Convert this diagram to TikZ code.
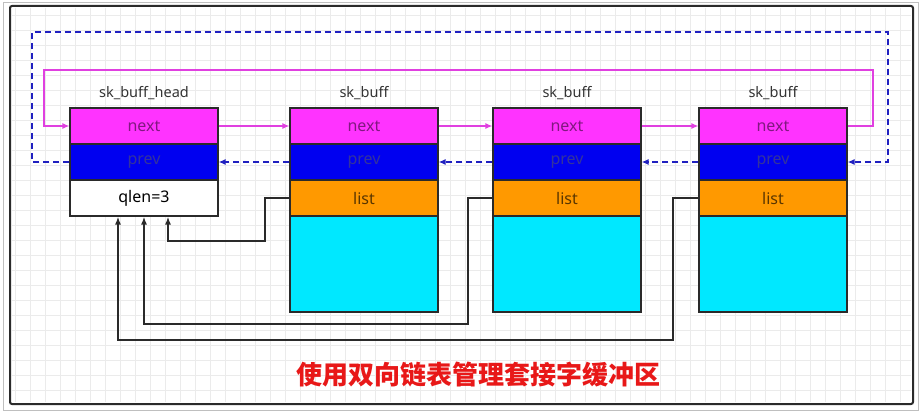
\documentclass[tikz,border=0pt]{standalone}
\usepackage{fontspec}
\setmainfont{Noto Sans}
\newfontfamily\cjk{Noto Sans CJK SC}
\definecolor{skMagenta}{HTML}{FF33FF}
\definecolor{skBlue}{HTML}{0000F0}
\definecolor{skOrange}{HTML}{FF9900}
\definecolor{skCyan}{HTML}{00E8FF}
\definecolor{skDash}{HTML}{2020C0}
\definecolor{skPink}{HTML}{E040E0}
\definecolor{skRed}{HTML}{E81818}
\definecolor{skFrame}{HTML}{2A2A2A}
\usetikzlibrary{arrows.meta, positioning, calc}

\begin{document}
\begin{tikzpicture}[x=1pt, y=-1pt,
  cell/.style={draw=skFrame, line width=1.2pt, minimum width=148pt,
    minimum height=36pt, inner sep=0pt, font=\fontsize{16}{16}\selectfont},
  title/.style={font=\fontsize{14.5}{14.5}\selectfont, text=black!80},
  nextln/.style={skPink, line width=1.2pt, -{Latex[length=7pt,width=6pt]}},
  prevln/.style={skDash, line width=1.5pt, dash pattern=on 6pt off 4pt,
    -{Latex[length=7pt,width=6pt]}},
  listln/.style={skFrame, line width=1.4pt, -{Latex[length=8pt,width=6pt]}}]
  \useasboundingbox (0,0) rectangle (921,412);
  % canvas
  \fill[white] (0,0) rectangle (921,412);
  \foreach \gx in {15,30,...,905}
    \draw[black!8, line width=0.5pt] (\gx,8) -- (\gx,402);
  \foreach \gy in {15,30,...,400}
    \draw[black!8, line width=0.5pt] (12,\gy) -- (911,\gy);
  \draw[black!25, line width=0.6pt] (3,2) rectangle (918,410);
  \draw[skFrame, line width=2pt, rounded corners=2pt] (10,6) rectangle (913,404);
  % sk_buff_head
  \node[cell, fill=skMagenta, text=skMagenta!50!black] (n1) at (144,126) {next};
  \node[cell, fill=skBlue, text=skBlue!55!black!80!white] (p1) at (144,162) {prev};
  \node[cell, fill=white] (q) at (144,198) {qlen=3};
  \node[title, above=4pt of n1] {sk\_buff\_head};
  % sk_buff nodes
  \node[cell, fill=skMagenta, text=skMagenta!50!black] (n2) at (364,126) {next};
  \node[cell, fill=skBlue, text=skBlue!55!black!80!white] (p2) at (364,162) {prev};
  \node[cell, fill=skOrange, text=skOrange!35!black] (l2) at (364,198) {list};
  \node[cell, fill=skCyan, minimum height=96pt] (d2) at (364,264) {};
  \node[title, above=4pt of n2] {sk\_buff};
  \node[cell, fill=skMagenta, text=skMagenta!50!black] (n3) at (567,126) {next};
  \node[cell, fill=skBlue, text=skBlue!55!black!80!white] (p3) at (567,162) {prev};
  \node[cell, fill=skOrange, text=skOrange!35!black] (l3) at (567,198) {list};
  \node[cell, fill=skCyan, minimum height=96pt] (d3) at (567,264) {};
  \node[title, above=4pt of n3] {sk\_buff};
  \node[cell, fill=skMagenta, text=skMagenta!50!black] (n4) at (773,126) {next};
  \node[cell, fill=skBlue, text=skBlue!55!black!80!white] (p4) at (773,162) {prev};
  \node[cell, fill=skOrange, text=skOrange!35!black] (l4) at (773,198) {list};
  \node[cell, fill=skCyan, minimum height=96pt] (d4) at (773,264) {};
  \node[title, above=4pt of n4] {sk\_buff};
  % corners of the loops
  \coordinate (nxR) at (873,70);
  \coordinate (nxL) at (44,70);
  \coordinate (pvL) at (32,32);
  \coordinate (pvR) at (888,32);
  \coordinate (lk2) at (265,241);
  \coordinate (lk3) at (468,324);
  \coordinate (lk4) at (673,340);
  % next links
  \draw[nextln] (n1) -- (n2);
  \draw[nextln] (n2) -- (n3);
  \draw[nextln] (n3) -- (n4);
  \draw[nextln] (n4.east) -| (nxR) -- (nxL) |- (n1.west);
  % prev links
  \draw[prevln] (p2) -- (p1);
  \draw[prevln] (p3) -- (p2);
  \draw[prevln] (p4) -- (p3);
  \draw[prevln] (p1.west) -| (pvL) -- (pvR) |- (p4.east);
  % list links
  \draw[listln] (l2.west) -| (lk2) -| ([xshift=24pt]q.south);
  \draw[listln] (l3.west) -| (lk3) -| (q.south);
  \draw[listln] (l4.west) -| (lk4) -| ([xshift=-26pt]q.south);
  \node[text=skRed, font=\cjk\bfseries\fontsize{26}{26}\selectfont] (cap) at (478,375)
    {使用双向链表管理套接字缓冲区};
\end{tikzpicture}
\end{document}
